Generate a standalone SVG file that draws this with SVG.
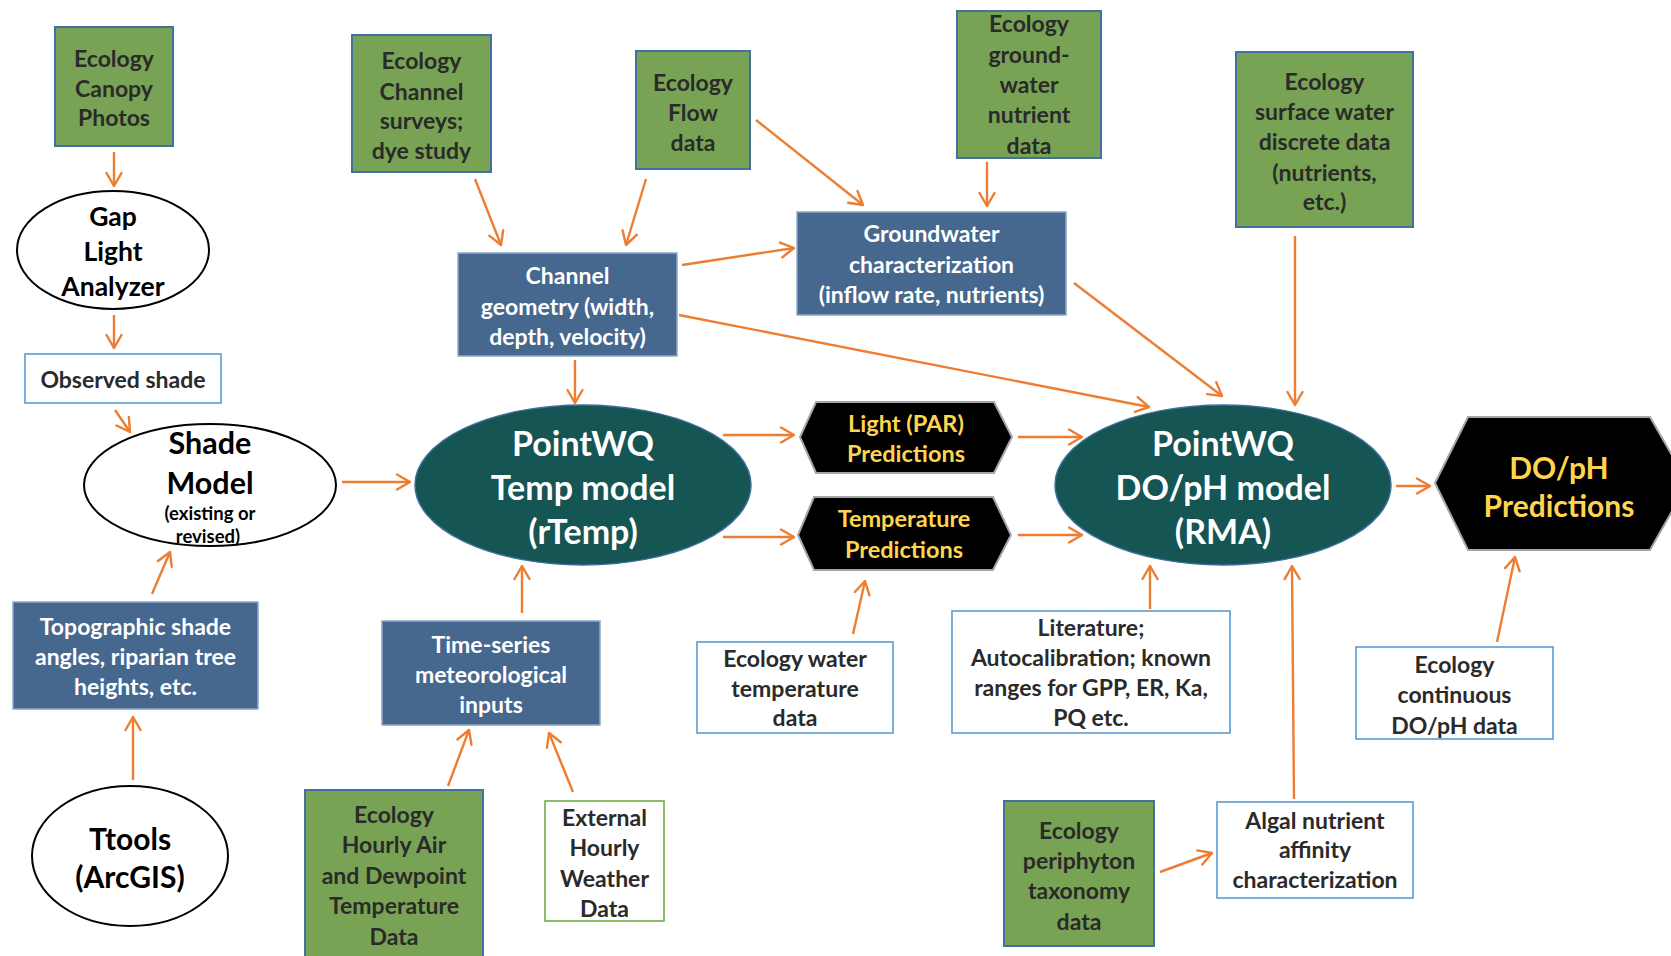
<svg xmlns="http://www.w3.org/2000/svg" width="1671" height="956" viewBox="0 0 1671 956">
<defs>
<marker id="arr" markerUnits="userSpaceOnUse" markerWidth="30" markerHeight="30" viewBox="-15 -15 30 30" refX="0" refY="0" orient="auto">
<path d="M -13 -7.5 L 0 0 L -13 7.5" fill="none" stroke="#ED7D31" stroke-width="2.4" stroke-linecap="round" stroke-linejoin="round"/>
</marker>
</defs>
<style>
text{font-family:Lato,"Open Sans","Liberation Sans",sans-serif;font-weight:bold;text-anchor:middle;dominant-baseline:central}
.g rect{fill:#78A355;stroke:#41719C;stroke-width:2}
.g text{fill:#2A2A2A;font-size:23px}
.b rect{fill:#46688F;stroke:#8DA8C9;stroke-width:1.5}
.b text{fill:#FFFFFF;font-size:23px}
.w rect{fill:#FFFFFF;stroke:#5B9BD5;stroke-width:1.6}
.w text{fill:#2A2A2A;font-size:23px}
.e ellipse{fill:#FFFFFF;stroke:#000000;stroke-width:2}
.e text{fill:#000000}
.t ellipse{fill:#155553;stroke:#3F6E9E;stroke-width:1.5}
.t text{fill:#FFFFFF;font-size:34px}
.h polygon{fill:#000000;stroke:#A6A6A6;stroke-width:2}
.h text{fill:#FFD54F;font-size:23.5px}
.h text.big{font-size:30px}
#conn line{stroke:#ED7D31;stroke-width:2.4;marker-end:url(#arr)}
</style>
<rect width="1671" height="956" fill="#FFFFFF"/>

<g id="conn">
<line x1="114" y1="152" x2="114" y2="186"/>
<line x1="114" y1="315" x2="114" y2="348"/>
<line x1="115" y1="410" x2="130" y2="432"/>
<line x1="342" y1="482" x2="410" y2="482"/>
<line x1="152" y1="594" x2="170" y2="552"/>
<line x1="133" y1="780" x2="133" y2="717"/>
<line x1="475" y1="179" x2="501" y2="245"/>
<line x1="646" y1="179" x2="626" y2="245"/>
<line x1="756" y1="120" x2="863" y2="205"/>
<line x1="987" y1="162" x2="987" y2="206"/>
<line x1="682" y1="265" x2="794" y2="248"/>
<line x1="679" y1="315" x2="1149" y2="407"/>
<line x1="1074" y1="283" x2="1222" y2="396"/>
<line x1="1295" y1="236" x2="1295" y2="405"/>
<line x1="575" y1="360" x2="575" y2="403"/>
<line x1="723" y1="435" x2="794" y2="435"/>
<line x1="723" y1="537" x2="794" y2="537"/>
<line x1="1018" y1="437" x2="1082" y2="437"/>
<line x1="1018" y1="535" x2="1082" y2="535"/>
<line x1="1396" y1="486" x2="1430" y2="486"/>
<line x1="522" y1="613" x2="522" y2="566"/>
<line x1="448" y1="786" x2="469" y2="730"/>
<line x1="573" y1="792" x2="549" y2="733"/>
<line x1="853" y1="634" x2="865" y2="581"/>
<line x1="1150" y1="609" x2="1150" y2="566"/>
<line x1="1294" y1="799" x2="1292" y2="566"/>
<line x1="1160" y1="872" x2="1212" y2="853"/>
<line x1="1497" y1="642" x2="1515" y2="557"/>
</g>

<g id="canopy" class="g">
<rect x="55" y="27" width="118" height="119"/>
<text x="114" y="58">Ecology</text>
<text x="114" y="88">Canopy</text>
<text x="114" y="117">Photos</text>
</g>

<g id="gap" class="e">
<ellipse cx="113" cy="250" rx="96" ry="59"/>
<text x="113" y="216" font-size="26.5">Gap</text>
<text x="113" y="251" font-size="26.5">Light</text>
<text x="113" y="286" font-size="26.5">Analyzer</text>
</g>

<g id="observed" class="w">
<rect x="25" y="354" width="196" height="49"/>
<text x="123" y="379">Observed shade</text>
</g>

<g id="shade" class="e">
<ellipse cx="210" cy="485" rx="126" ry="61"/>
<text x="210" y="442" font-size="30.5">Shade</text>
<text x="210" y="482" font-size="30.5">Model</text>
<text x="210" y="513" font-size="18.5">(existing or</text>
<text x="208" y="536" font-size="18.5">revised)</text>
</g>

<g id="topo" class="b">
<rect x="13" y="602" width="245" height="107"/>
<text x="135.5" y="626">Topographic shade</text>
<text x="135.5" y="656">angles, riparian tree</text>
<text x="135.5" y="686">heights, etc.</text>
</g>

<g id="ttools" class="e">
<ellipse cx="130" cy="856" rx="98" ry="70"/>
<text x="130" y="838" font-size="30">Ttools</text>
<text x="130" y="876" font-size="30">(ArcGIS)</text>
</g>

<g id="channel-surveys" class="g">
<rect x="352" y="35" width="139" height="137"/>
<text x="421.5" y="60">Ecology</text>
<text x="421.5" y="91">Channel</text>
<text x="421.5" y="120">surveys;</text>
<text x="421.5" y="150">dye study</text>
</g>

<g id="flow" class="g">
<rect x="636" y="51" width="114" height="118"/>
<text x="693" y="82">Ecology</text>
<text x="693" y="112">Flow</text>
<text x="693" y="142">data</text>
</g>

<g id="channel-geom" class="b">
<rect x="458" y="253" width="219" height="103"/>
<text x="567.5" y="275">Channel</text>
<text x="567.5" y="306">geometry (width,</text>
<text x="567.5" y="336">depth, velocity)</text>
</g>

<g id="gw-data" class="g">
<rect x="957" y="11" width="144" height="147"/>
<text x="1029" y="23">Ecology</text>
<text x="1029" y="54">ground-</text>
<text x="1029" y="84">water</text>
<text x="1029" y="114">nutrient</text>
<text x="1029" y="145">data</text>
</g>

<g id="gw-char" class="b">
<rect x="797" y="212" width="269" height="103"/>
<text x="931.5" y="233">Groundwater</text>
<text x="931.5" y="264">characterization</text>
<text x="931.5" y="294">(inflow rate, nutrients)</text>
</g>

<g id="surface" class="g">
<rect x="1236" y="52" width="177" height="175"/>
<text x="1324.5" y="81">Ecology</text>
<text x="1324.5" y="111">surface water</text>
<text x="1324.5" y="141">discrete data</text>
<text x="1324.5" y="172">(nutrients,</text>
<text x="1324.5" y="201">etc.)</text>
</g>

<g id="temp-model" class="t">
<ellipse cx="583" cy="485" rx="168" ry="80"/>
<text x="583" y="442">PointWQ</text>
<text x="583" y="486">Temp model</text>
<text x="583" y="530">(rTemp)</text>
</g>

<g id="light-pred" class="h">
<polygon points="800,437 816,402 994,402 1012,437 994,473 816,473"/>
<text x="906" y="423">Light (PAR)</text>
<text x="906" y="453">Predictions</text>
</g>

<g id="temp-pred" class="h">
<polygon points="798,535 814,497 993,497 1011,535 993,570 814,570"/>
<text x="904" y="518">Temperature</text>
<text x="904" y="549">Predictions</text>
</g>

<g id="dopH-model" class="t">
<ellipse cx="1223" cy="485" rx="168" ry="80"/>
<text x="1223" y="442">PointWQ</text>
<text x="1223" y="486">DO/pH model</text>
<text x="1223" y="530">(RMA)</text>
</g>

<g id="dopH-pred" class="h">
<polygon points="1435,483 1468,417 1650,417 1688,483 1650,550 1468,550"/>
<text class="big" x="1559" y="467">DO/pH</text>
<text class="big" x="1559" y="505">Predictions</text>
</g>

<g id="water-temp" class="w">
<rect x="697" y="642" width="196" height="91"/>
<text x="795" y="658">Ecology water</text>
<text x="795" y="688">temperature</text>
<text x="795" y="717">data</text>
</g>

<g id="literature" class="w">
<rect x="952" y="611" width="278" height="122"/>
<text x="1091" y="627">Literature;</text>
<text x="1091" y="657">Autocalibration; known</text>
<text x="1091" y="687">ranges for GPP, ER, Ka,</text>
<text x="1091" y="717">PQ etc.</text>
</g>

<g id="continuous" class="w">
<rect x="1356" y="647" width="197" height="92"/>
<text x="1454.5" y="664">Ecology</text>
<text x="1454.5" y="694">continuous</text>
<text x="1454.5" y="725">DO/pH data</text>
</g>

<g id="timeseries" class="b">
<rect x="382" y="621" width="218" height="104"/>
<text x="491" y="644">Time-series</text>
<text x="491" y="674">meteorological</text>
<text x="491" y="704">inputs</text>
</g>

<g id="hourly-air" class="g">
<rect x="305" y="790" width="178" height="175"/>
<text x="394" y="814">Ecology</text>
<text x="394" y="844">Hourly Air</text>
<text x="394" y="875">and Dewpoint</text>
<text x="394" y="905">Temperature</text>
<text x="394" y="936">Data</text>
</g>

<g id="external" class="w">
<rect x="545" y="801" width="119" height="120" style="stroke:#70AD47"/>
<text x="604.5" y="817">External</text>
<text x="604.5" y="847">Hourly</text>
<text x="604.5" y="878">Weather</text>
<text x="604.5" y="908">Data</text>
</g>

<g id="periphyton" class="g">
<rect x="1004" y="801" width="150" height="145"/>
<text x="1079" y="830">Ecology</text>
<text x="1079" y="860">periphyton</text>
<text x="1079" y="890">taxonomy</text>
<text x="1079" y="921">data</text>
</g>

<g id="algal" class="w">
<rect x="1217" y="802" width="196" height="96"/>
<text x="1315" y="820">Algal nutrient</text>
<text x="1315" y="849">affinity</text>
<text x="1315" y="879">characterization</text>
</g>
</svg>
